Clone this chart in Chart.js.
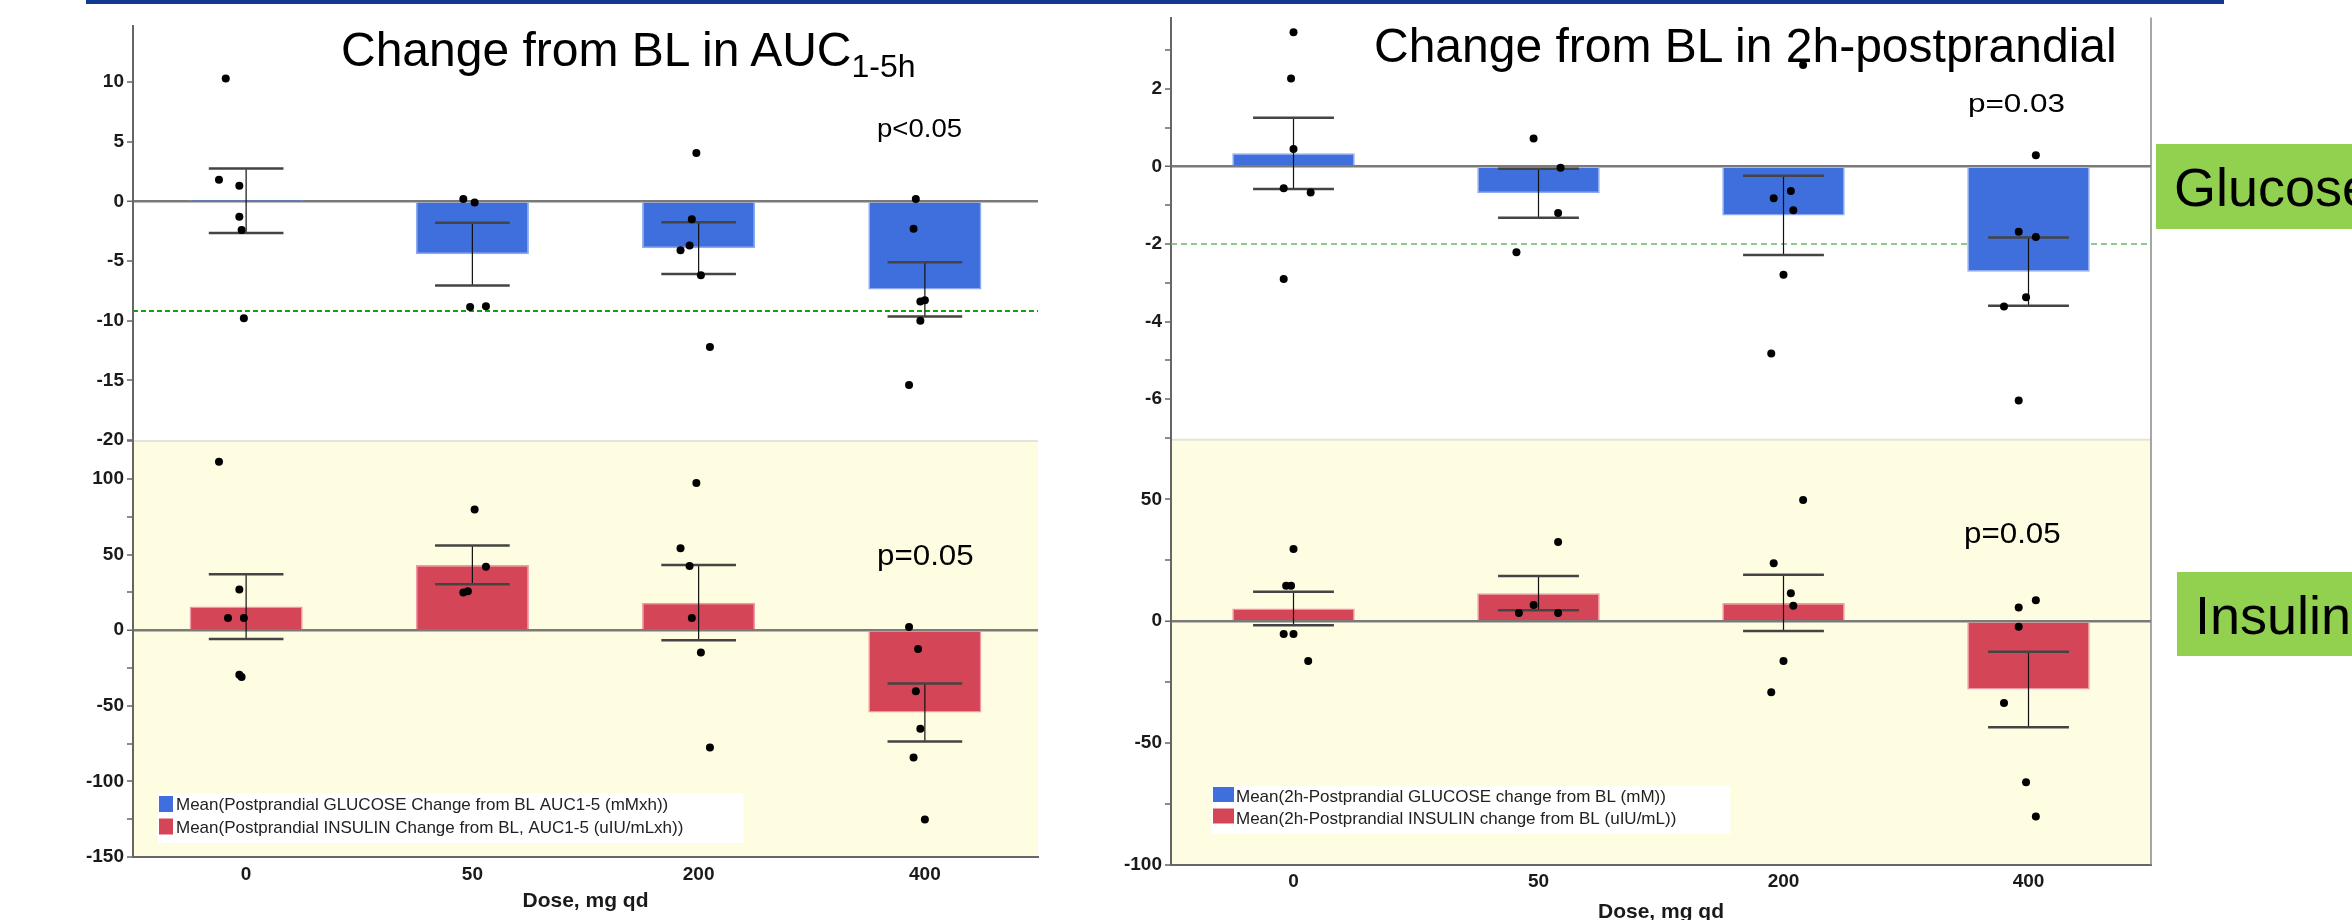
<!DOCTYPE html>
<html><head><meta charset="utf-8">
<script src="https://cdn.jsdelivr.net/npm/chart.js@4/dist/chart.umd.min.js"></script>
<style>
html,body{margin:0;padding:0;width:2352px;height:920px;overflow:hidden;background:#fff;font-family:'Liberation Sans',Arial,sans-serif;}
.abs{position:absolute;white-space:nowrap;line-height:1;color:#000;}
#wl{position:absolute;left:0;top:0;width:1100px;height:920px;}
#wr{position:absolute;left:1100px;top:0;width:1252px;height:940px;}
.pv{transform-origin:0 0;}
.gbox{position:absolute;background:#92D050;overflow:hidden;z-index:5;}
.gbox span{position:absolute;font-size:54px;line-height:1;white-space:nowrap;color:#000;}
</style></head><body>
<div id="wl"><canvas id="cL" width="1100" height="920"></canvas></div>
<div id="wr"><canvas id="cR" width="1252" height="940"></canvas></div>
<div class="abs" style="left:86px;top:0;width:2138px;height:4px;background:#12388F;"></div>
<div class="abs" style="left:341px;top:26.4px;font-size:48px;">Change from BL in AUC<span style="font-size:32px;vertical-align:-11px;">1-5h</span></div>
<div class="abs" style="left:1374px;top:22.4px;font-size:48px;">Change from BL in 2h-postprandial</div>
<div class="abs pv" style="left:877px;top:115px;font-size:26px;transform:scaleX(1.06);">p&lt;0.05</div>
<div class="abs pv" style="left:877px;top:540.5px;font-size:29px;transform:scaleX(1.08);">p=0.05</div>
<div class="abs pv" style="left:1968px;top:90px;font-size:26px;transform:scaleX(1.21);">p=0.03</div>
<div class="abs pv" style="left:1964px;top:518.5px;font-size:29px;transform:scaleX(1.08);">p=0.05</div>
<div class="gbox" style="left:2156px;top:144px;width:196px;height:85px;"><span style="left:18px;top:16.3px;">Glucose</span></div>
<div class="gbox" style="left:2177px;top:572px;width:175px;height:84px;"><span style="left:18px;top:16.3px;">Insulin</span></div>
<script>
// ---------- data ----------
const doses = ['0', '50', '200', '400'];
const xTitle = 'Dose, mg qd';

// Left panel: change from BL in AUC 1-5h
const aucGlucoseLabel = 'Mean(Postprandial GLUCOSE Change from BL AUC1-5 (mMxh))';
const aucInsulinLabel = 'Mean(Postprandial INSULIN Change from BL, AUC1-5 (uIU/mLxh))';
const aucGlucoseMean = [0.05, -4.43, -3.93, -7.38];
const aucGlucoseSE = [2.71, 2.63, 2.17, 2.28];
const aucInsulinMean = [15.6, 43.2, 18.2, -54.4];
const aucInsulinSE = [21.4, 12.8, 24.9, 19.2];
const aucGlucoseIndiv = [[10.3, 1.8, 1.3, -1.3, -2.4, -9.8], [0.2, -0.1, -8.85, -8.8], [4.05, -1.5, -3.7, -4.1, -6.2, -12.2], [0.2, -2.3, -8.4, -8.3, -10.0, -15.4]];
const aucGlucoseJitter = [[-0.09, -0.12, -0.03, -0.03, -0.02, -0.01], [-0.04, 0.01, -0.01, 0.06], [-0.01, -0.03, -0.04, -0.08, 0.01, 0.05], [-0.04, -0.05, -0.02, 0, -0.02, -0.07]];
const aucInsulinIndiv = [[111.4, 27.0, 8.1, 8.1, -29.4, -30.9], [79.8, 41.9, 25.0, 25.7], [97.4, 54.2, 42.5, 8.1, -14.7, -77.6], [2.2, -12.5, -40.4, -65.1, -84.2, -125.2]];
const aucInsulinJitter = [[-0.12, -0.03, -0.08, -0.01, -0.03, -0.02], [0.01, 0.06, -0.04, -0.02], [-0.01, -0.08, -0.04, -0.03, 0.01, 0.05], [-0.07, -0.03, -0.04, -0.02, -0.05, 0]];
const aucGlucoseRef = -9.2;

// Right panel: change from BL in 2h-postprandial
const ppGlucoseLabel = 'Mean(2h-Postprandial GLUCOSE change from BL (mM))';
const ppInsulinLabel = 'Mean(2h-Postprandial INSULIN change from BL (uIU/mL))';
const ppGlucoseMean = [0.34, -0.69, -1.26, -2.71];
const ppGlucoseSE = [0.92, 0.63, 1.02, 0.88];
const ppInsulinMean = [5.2, 11.5, 7.5, -28.0];
const ppInsulinSE = [6.9, 7.0, 11.5, 15.5];
const ppGlucoseIndiv = [[3.46, 2.27, 0.45, -0.56, -0.67, -2.9], [0.72, -0.03, -1.2, -2.21], [2.62, -0.63, -0.82, -1.13, -2.79, -4.82], [0.29, -1.68, -1.82, -3.37, -3.61, -6.03]];
const ppGlucoseJitter = [[0, -0.01, 0, -0.04, 0.07, -0.04], [-0.02, 0.09, 0.08, -0.09], [0.08, 0.03, -0.04, 0.04, 0, -0.05], [0.03, -0.04, 0.03, -0.01, -0.1, -0.04]];
const ppInsulinIndiv = [[29.6, 14.5, 14.5, -5.3, -5.3, -16.3], [32.5, 6.6, 3.4, 3.4], [49.7, 23.8, 11.5, 6.3, -16.3, -29.2], [8.6, 5.6, -2.3, -33.6, -66.1, -80.1]];
const ppInsulinJitter = [[0, -0.03, -0.01, -0.04, 0, 0.06], [0.08, -0.02, -0.08, 0.08], [0.08, -0.04, 0.03, 0.04, 0, -0.05], [0.03, -0.04, -0.04, -0.1, -0.01, 0.03]];
const ppGlucoseRef = -2;

// ---------- styling ----------
const FONT = "'Liberation Sans', Arial, sans-serif";
Chart.defaults.font.family = FONT;
const BLUE = '#3F6FDC', BLUE_EDGE = '#8EAAEE';
const RED = '#D44657', RED_EDGE = '#EE9AA4';

const toBars = (means) => means.map((v, i) => ({x: i, y: v}));
const toPoints = (vals, jit) => vals.flatMap((arr, i) => arr.map((v, k) => ({x: i + jit[i][k], y: v})));

const errorBarPlugin = {
  id: 'errorBars',
  afterDatasetDraw(chart, args) {
    const ds = chart.data.datasets[args.index];
    if (!ds.errors) return;
    const meta = args.meta;
    const ys = chart.scales[meta.yAxisID];
    const ctx = chart.ctx;
    ctx.save();
    meta.data.forEach((bar, i) => {
      const m = ds.data[i].y, e = ds.errors[i];
      const x = bar.x, half = bar.width * 0.33;
      const yt = ys.getPixelForValue(m + e), yb = ys.getPixelForValue(m - e);
      ctx.strokeStyle = '#111'; ctx.lineWidth = 1.2;
      ctx.beginPath(); ctx.moveTo(x, yt); ctx.lineTo(x, yb); ctx.stroke();
      ctx.strokeStyle = '#444'; ctx.lineWidth = 2.5;
      ctx.beginPath(); ctx.moveTo(x - half, yt); ctx.lineTo(x + half, yt);
      ctx.moveTo(x - half, yb); ctx.lineTo(x + half, yb); ctx.stroke();
    });
    ctx.restore();
  }
};

const panelPlugin = {
  id: 'panels',
  beforeDraw(chart, args, o) {
    const {ctx, chartArea: ca} = chart;
    const s = chart.scales.yI;
    ctx.save();
    ctx.fillStyle = '#FEFDE1';
    ctx.fillRect(ca.left, s.top, ca.right - ca.left, s.bottom - s.top);
    ctx.strokeStyle = '#E4E4DC'; ctx.lineWidth = 2;
    ctx.beginPath(); ctx.moveTo(ca.left, s.top + 1); ctx.lineTo(ca.right, s.top + 1); ctx.stroke();
    ctx.restore();
  },
  beforeDatasetsDraw(chart, args, o) {
    const {ctx, chartArea: ca} = chart;
    const y = chart.scales.yG.getPixelForValue(o.refValue);
    ctx.save();
    ctx.strokeStyle = o.refColor; ctx.lineWidth = o.refWidth; ctx.setLineDash(o.refDash);
    ctx.beginPath(); ctx.moveTo(ca.left, y); ctx.lineTo(ca.right, y); ctx.stroke();
    ctx.restore();
  },
  afterDraw(chart, args, o) {
    const {ctx, chartArea: ca} = chart;
    ctx.save();
    if (o.rightBorder) {
      ctx.strokeStyle = '#888'; ctx.lineWidth = 1.5;
      ctx.beginPath(); ctx.moveTo(ca.right, ca.top); ctx.lineTo(ca.right, ca.bottom); ctx.stroke();
    }
    // legend inside plot area, bottom-left
    const L = o.legend;
    const items = chart.data.datasets.filter(d => d.type === 'bar').map(d => ({label: d.label, color: d.backgroundColor}));
    ctx.font = L.fontSize + 'px ' + FONT;
    const tw = Math.max(...items.map(it => ctx.measureText(it.label).width));
    const h = L.padTop + items.length * L.row + L.padBottom;
    const x0 = ca.left + L.left, y0 = ca.bottom - L.bottom - h;
    const w = 1 + L.boxW + L.gap + tw + L.padRight;
    ctx.fillStyle = '#fff'; ctx.fillRect(x0, y0, w, h);
    items.forEach((it, k) => {
      const ry = y0 + L.padTop + k * L.row;
      ctx.fillStyle = it.color; ctx.fillRect(x0 + 1, ry, L.boxW, L.boxH);
      ctx.fillStyle = '#222'; ctx.textBaseline = 'alphabetic'; ctx.textAlign = 'left';
      ctx.fillText(it.label, x0 + 1 + L.boxW + L.gap, ry + L.baseOff);
    });
    ctx.restore();
  }
};

function yScale(stack, weight, min, max, step, major, axisWidth) {
  return {
    type: 'linear', position: 'left', stack: stack, stackWeight: weight,
    min: min, max: max,
    afterBuildTicks: (s) => {
      const t = [];
      for (let k = Math.ceil(min / step); k * step <= max + 1e-9; k++) t.push({value: k * step});
      s.ticks = t;
    },
    ticks: {
      autoSkip: false, padding: 3,
      color: '#1a1a1a', font: {size: 19, weight: 'bold'},
      callback: (v) => (Math.abs(v % major) < 1e-9 ? String(v) : '')
    },
    grid: {
      color: (c) => (c.tick && c.tick.value === 0 ? '#7a7a7a' : 'rgba(0,0,0,0)'),
      lineWidth: (c) => (c.tick && c.tick.value === 0 ? 2.5 : 0),
      tickColor: '#666', tickWidth: 1.5, tickLength: 6, drawTicks: true
    },
    border: {display: true, color: '#666', width: 2},
    afterFit: (s) => { s.width = axisWidth; }
  };
}

function makeChart(id, cfg) {
  const datasets = [
    {type: 'bar', label: cfg.gLabel, data: toBars(cfg.gMean), errors: cfg.gSE, yAxisID: 'yG', xAxisID: 'x',
      backgroundColor: BLUE, borderColor: BLUE_EDGE, borderWidth: 1.5, grouped: false,
      categoryPercentage: 1, barPercentage: 0.5, order: 2},
    {type: 'bar', label: cfg.iLabel, data: toBars(cfg.iMean), errors: cfg.iSE, yAxisID: 'yI', xAxisID: 'x',
      backgroundColor: RED, borderColor: RED_EDGE, borderWidth: 1.5, grouped: false,
      categoryPercentage: 1, barPercentage: 0.5, order: 2},
    {type: 'scatter', label: 'glucose individual', data: toPoints(cfg.gPts, cfg.gJit), yAxisID: 'yG', xAxisID: 'x',
      backgroundColor: '#000', borderColor: '#000', pointRadius: 4, borderWidth: 0, order: 1},
    {type: 'scatter', label: 'insulin individual', data: toPoints(cfg.iPts, cfg.iJit), yAxisID: 'yI', xAxisID: 'x',
      backgroundColor: '#000', borderColor: '#000', pointRadius: 4, borderWidth: 0, order: 1}
  ];
  return new Chart(document.getElementById(id), {
    type: 'bar',
    data: {datasets: datasets},
    plugins: [panelPlugin, errorBarPlugin],
    options: {
      responsive: false, animation: false, events: [],
      layout: {padding: cfg.padding},
      plugins: {
        legend: {display: false}, tooltip: {enabled: false},
        panels: {refValue: cfg.ref, refColor: cfg.refColor, refWidth: cfg.refWidth, refDash: cfg.refDash,
          rightBorder: cfg.rightBorder, legend: cfg.legend}
      },
      scales: {
        x: {
          type: 'linear', position: 'bottom', min: -0.5, max: 3.5, offset: false,
          afterBuildTicks: (s) => { s.ticks = doses.map((d, i) => ({value: i})); },
          ticks: {autoSkip: false, padding: cfg.xPad, color: '#1a1a1a', font: {size: 19, weight: 'bold'},
            callback: (v) => doses[v]},
          grid: {display: false, drawTicks: false, offset: false},
          border: {display: true, color: '#666', width: 2},
          title: {display: true, text: xTitle, color: '#1a1a1a', font: {size: 21, weight: 'bold'},
            padding: {top: 0, bottom: cfg.titlePad}},
          afterFit: (s) => { s.height = cfg.xHeight; }
        },
        yI: yScale('panel', cfg.iWeight, cfg.iMin, cfg.iMax, cfg.iStep, cfg.iMajor, cfg.axisW),
        yG: yScale('panel', cfg.gWeight, cfg.gMin, cfg.gMax, cfg.gStep, cfg.gMajor, cfg.axisW)
      }
    }
  });
}

makeChart('cL', {
  gLabel: aucGlucoseLabel, iLabel: aucInsulinLabel,
  gMean: aucGlucoseMean, gSE: aucGlucoseSE, iMean: aucInsulinMean, iSE: aucInsulinSE,
  gPts: aucGlucoseIndiv, gJit: aucGlucoseJitter, iPts: aucInsulinIndiv, iJit: aucInsulinJitter,
  ref: aucGlucoseRef, refColor: '#12A012', refWidth: 2, refDash: [5, 3],
  padding: {top: 26, right: 62, left: 0, bottom: 0}, axisW: 133, xHeight: 63, xPad: 6, titlePad: 6,
  gWeight: 414, gMin: -20, gMax: 14.69, gStep: 5, gMajor: 5,
  iWeight: 417, iMin: -150, iMax: 125.8, iStep: 25, iMajor: 50,
  rightBorder: false,
  legend: {fontSize: 17, left: 25, bottom: 14, padTop: 3, padBottom: 2, row: 22.5, boxW: 14, boxH: 16, gap: 3, baseOff: 14, padRight: 60}
});

makeChart('cR', {
  gLabel: ppGlucoseLabel, iLabel: ppInsulinLabel,
  gMean: ppGlucoseMean, gSE: ppGlucoseSE, iMean: ppInsulinMean, iSE: ppInsulinSE,
  gPts: ppGlucoseIndiv, gJit: ppGlucoseJitter, iPts: ppInsulinIndiv, iJit: ppInsulinJitter,
  ref: ppGlucoseRef, refColor: '#6DB56D', refWidth: 1.5, refDash: [6, 4],
  padding: {top: 17.6, right: 201, left: 0, bottom: 0}, axisW: 71, xHeight: 75, xPad: 5, titlePad: 15,
  gWeight: 421, gMin: -7.02, gMax: 3.84, gStep: 1, gMajor: 2,
  iWeight: 426, iMin: -100, iMax: 74.8, iStep: 25, iMajor: 50,
  rightBorder: true,
  legend: {fontSize: 17, left: 41, bottom: 31, padTop: 1, padBottom: 4, row: 21.5, boxW: 21, boxH: 15, gap: 2, baseOff: 15, padRight: 54}
});
</script>
</body></html>
